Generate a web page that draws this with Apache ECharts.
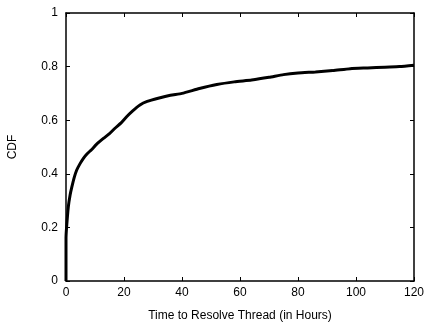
<!DOCTYPE html>
<html>
<head>
<meta charset="utf-8">
<script src="https://cdn.jsdelivr.net/npm/echarts@6/dist/echarts.min.js"></script>
<style>
  html, body { margin: 0; padding: 0; background: #fff; }
  #chart { width: 427px; height: 325px; }
</style>
</head>
<body>
<div id="chart"></div>
<script>
// CDF of time to resolve a thread
var hours = [0, 0, 0.2, 0.8, 1.4, 2.0, 2.8, 3.7, 4.8, 6.0, 7.3, 8.8, 10.5, 12.9, 15, 16.9, 19, 20.9, 23, 25.5, 28, 31.8,
             36, 40, 46, 52, 58, 64, 70, 75, 80, 86, 92, 98, 104, 110, 115, 120];
var cdf = [0, 0.16, 0.2, 0.277, 0.32, 0.35, 0.385, 0.414, 0.437, 0.458, 0.475, 0.49, 0.51, 0.532, 0.55, 0.57, 0.59, 0.613, 0.635, 0.657, 0.67, 0.682,
           0.693, 0.70, 0.718, 0.733, 0.743, 0.75, 0.76, 0.77, 0.776, 0.78, 0.785, 0.792, 0.795, 0.798, 0.80, 0.805];

var points = [];
for (var i = 0; i < hours.length; i++) {
	points.push([hours[i], cdf[i]]);
}

var font = 'Liberation Sans, Arial, sans-serif';
var lineCol = '#000';

function frameAxis(pos, max, step) {
	return {
		type: 'value', min: 0, max: max, interval: step, position: pos,
		axisLine: { show: true, onZero: false, lineStyle: { color: lineCol, width: 1.5 } },
		axisTick: { show: true, inside: true, length: 4, lineStyle: { color: lineCol } },
		axisLabel: { show: false },
		splitLine: { show: false }
	};
}

var myChart = echarts.init(document.getElementById('chart'));
var option = {
	animation: false,
	grid: { left: 66, right: 13, top: 13, bottom: 44, containLabel: false, outerBoundsMode: 'none' },
	xAxis: [
		{
			type: 'value', min: 0, max: 120, interval: 20, position: 'bottom',
			name: 'Time to Resolve Thread (in Hours)', nameLocation: 'middle', nameGap: 29,
			nameTextStyle: { color: '#000', fontFamily: font, fontSize: 12 },
			axisLine: { onZero: false, lineStyle: { color: lineCol, width: 1.5 } },
			axisTick: { inside: true, length: 4, lineStyle: { color: lineCol } },
			axisLabel: { color: '#000', fontFamily: font, fontSize: 12, margin: 6 },
			splitLine: { show: false }
		},
		frameAxis('top', 120, 20)
	],
	yAxis: [
		{
			type: 'value', min: 0, max: 1, interval: 0.2, position: 'left',
			name: 'CDF', nameLocation: 'middle', nameGap: 47,
			nameTextStyle: { color: '#000', fontFamily: font, fontSize: 12 },
			axisLine: { show: true, onZero: false, lineStyle: { color: lineCol, width: 1.5 } },
			axisTick: { show: true, inside: true, length: 4, lineStyle: { color: lineCol } },
			axisLabel: { color: '#000', fontFamily: font, fontSize: 12, margin: 8 },
			splitLine: { show: false }
		},
		frameAxis('right', 1, 0.2)
	],
	series: [
		{
			type: 'line',
			data: points,
			showSymbol: false,
			smooth: 0.2,
			lineStyle: { color: '#000', width: 3 }
		},
		{
			// empty series so the top and right frame axes get drawn
			type: 'line',
			xAxisIndex: 1,
			yAxisIndex: 1,
			data: [],
			showSymbol: false
		}
	]
};
myChart.setOption(option);
</script>
</body>
</html>
